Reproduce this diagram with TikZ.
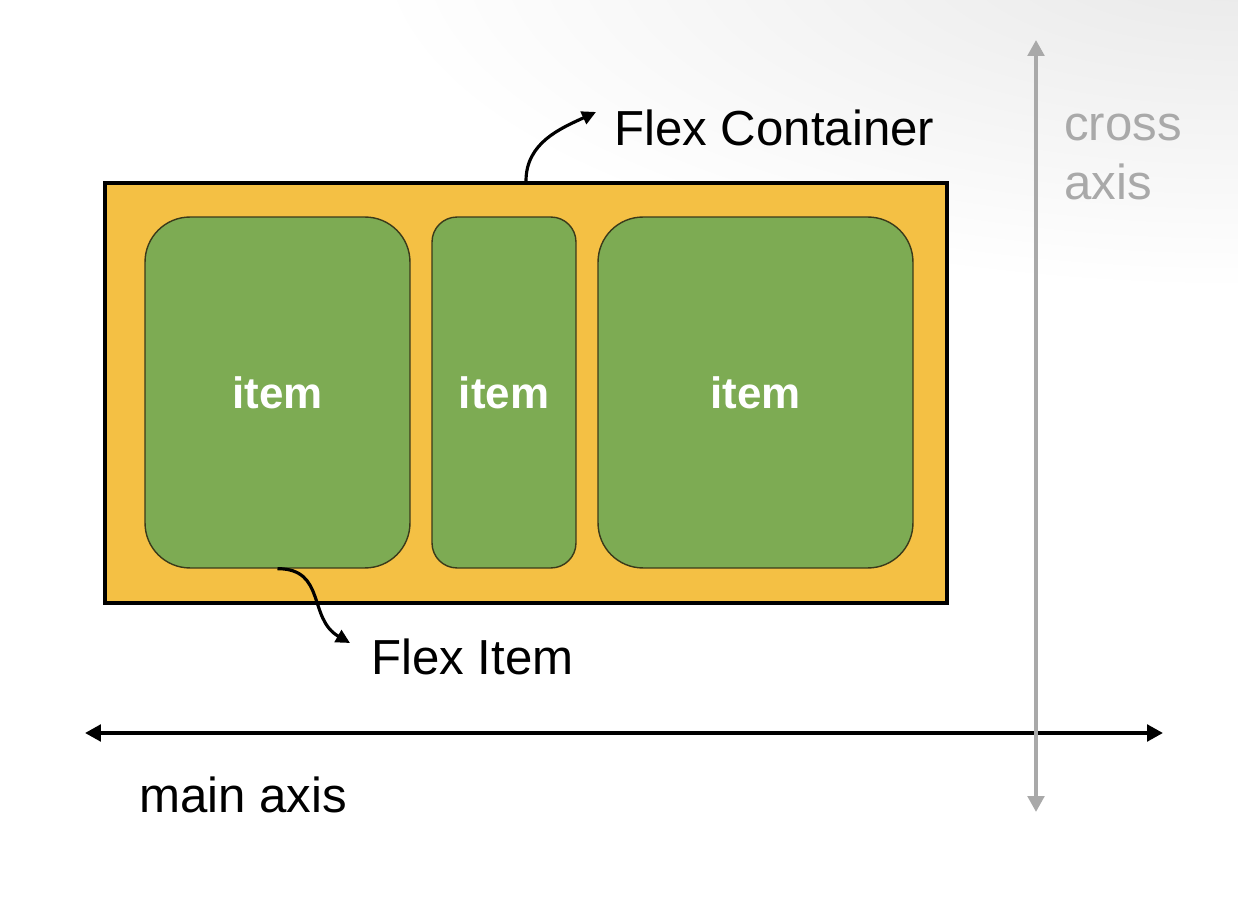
\documentclass[tikz,border=0pt]{standalone}
\usepackage{fontspec}
\setmainfont{Liberation Sans}
\usetikzlibrary{arrows.meta}
\definecolor{boxorange}{HTML}{F4C044}
\definecolor{itemgreen}{HTML}{7DAB53}
\definecolor{itemline}{HTML}{3A3A1A}
\definecolor{axisgray}{HTML}{A9A9A9}

\begin{document}
\begin{tikzpicture}[x=0.02cm, y=0.02cm,
    container/.style={draw=black, line width=2.3pt, fill=boxorange, minimum width=16.84cm, minimum height=8.4cm, inner sep=0},
    itembox/.style={draw=itemline, line width=0.8pt, fill=itemgreen, rounded corners=0.9cm, minimum height=7.02cm, inner sep=0, text=white, font=\fontsize{25}{29}\selectfont\bfseries},
    txt/.style={anchor=west, inner sep=0, font=\fontsize{28}{33.5}\selectfont},
    pointer/.style={-{Triangle[length=0.28cm,width=0.27cm]}, line width=1.8pt},
    axis/.style={{Triangle[length=0.32cm,width=0.33cm]}-{Triangle[length=0.32cm,width=0.33cm]}, line width=2.2pt}]
    \useasboundingbox (0,0) rectangle (1238,900);

    % 
    \begin{scope}
        \clip (0,0) rectangle (1238,900);
        \shade[inner color=black!9, outer color=white] (1238,950) ellipse [x radius=870, y radius=340];
    \end{scope}

    \node[container] (container) at (526,507) {};
    \node[itembox, minimum width=5.3cm] (item1) at (277.5,507.5) {item};
    \node[itembox, minimum width=2.88cm, rounded corners=0.5cm] (item2) at (504,507.5) {item};
    \node[itembox, minimum width=6.3cm] (item3) at (755.5,507.5) {item};

    \node[txt] (fc) at (614,772) {Flex Container};
    \node[txt] (fi) at (371,243) {Flex Item};
    \node[txt] (main) at (139,105) {main axis};
    \node[txt, text=axisgray, align=left] (cross) at (1064,743) {cross\\axis};

    \draw[pointer] (container.north) to[out=90, in=205] ([shift={(-18,16)}]fc.west);
    \draw[pointer] (item1.south) to[out=0, in=150, looseness=1.2] ([shift={(-21,14)}]fi.west);

    \coordinate (mleft) at (85,167);
    \coordinate (mright) at (1163,167);
    \draw[axis] (mleft) -- (mright);
    \coordinate (ctop) at (1036,860);
    \coordinate (cbot) at (1036,88);
    \draw[axis, axisgray] (cbot) -- (ctop);
\end{tikzpicture}
\end{document}
